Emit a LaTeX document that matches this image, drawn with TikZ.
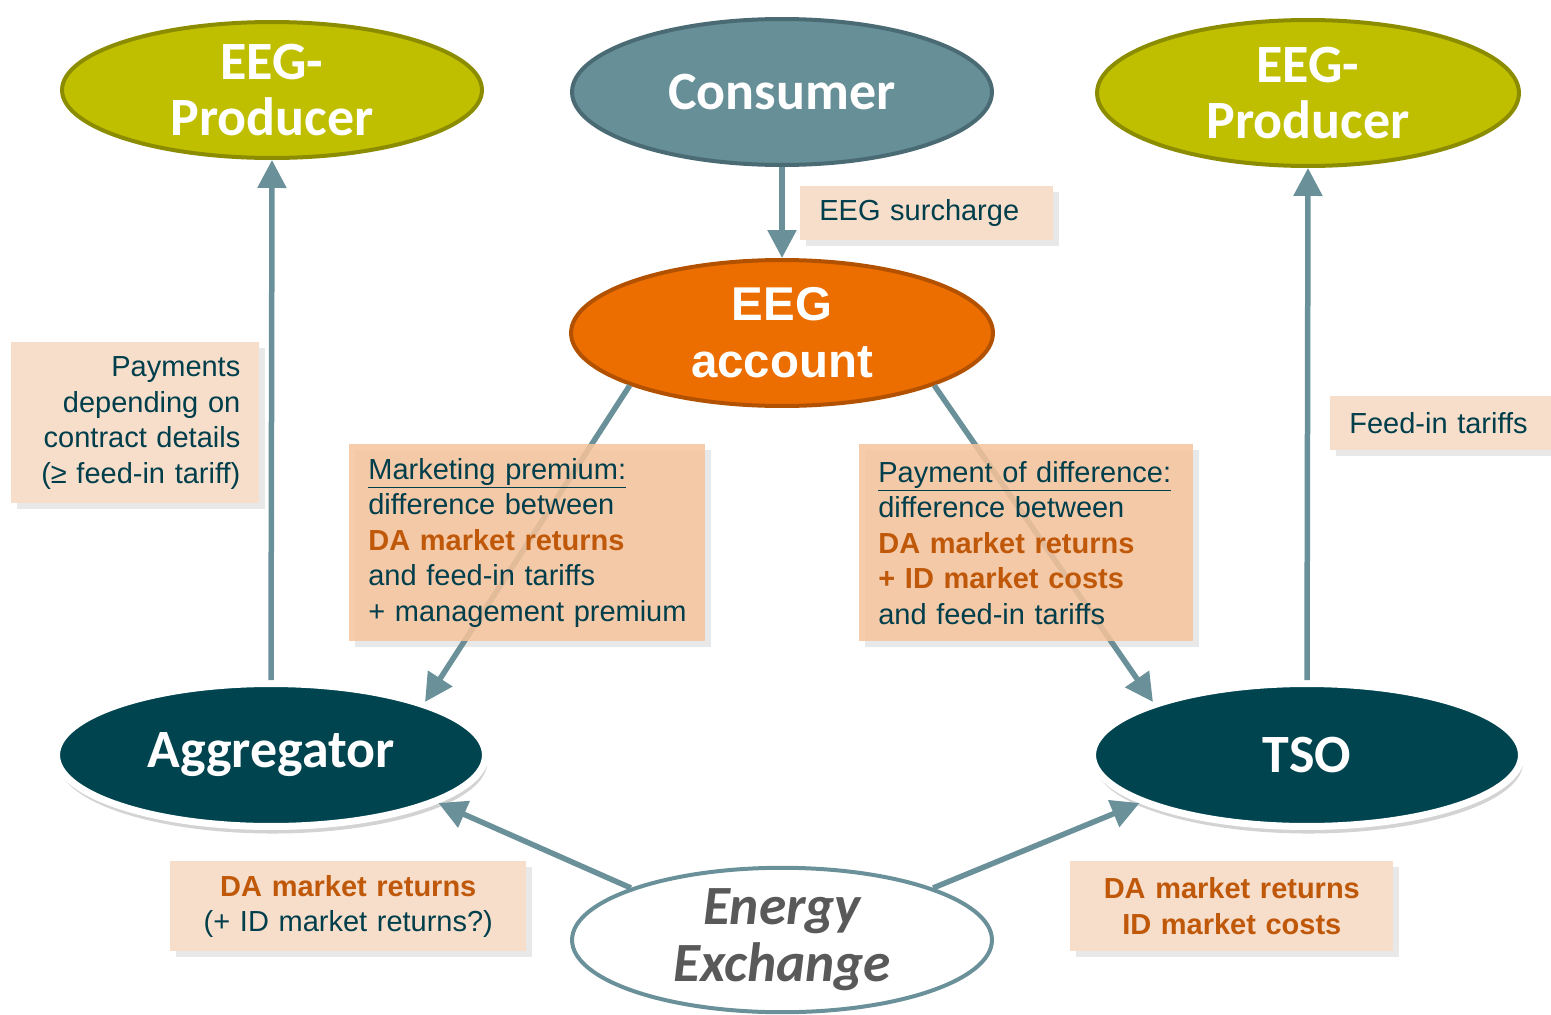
\documentclass[tikz,border=0pt]{standalone}
\usepackage{fontspec}
\setmainfont{Liberation Sans}
\newfontfamily\headfont{Carlito}
\usetikzlibrary{shapes.geometric,arrows.meta,shadows}

\definecolor{prodfill}{HTML}{BFBF00}
\definecolor{prodline}{HTML}{8C8C00}
\definecolor{consfill}{HTML}{668F97}
\definecolor{consline}{HTML}{4A6B73}
\definecolor{acctfill}{HTML}{EC6D00}
\definecolor{acctline}{HTML}{B25200}
\definecolor{darkteal}{HTML}{00444F}
\definecolor{flowteal}{HTML}{6A9099}
\definecolor{boxlight}{HTML}{F6DECB}
\definecolor{boxdark}{HTML}{F6C49C}
\definecolor{textteal}{HTML}{003E4B}
\definecolor{textorange}{HTML}{C0580A}
\definecolor{exchgray}{HTML}{595959}

\newcommand{\mkt}[1]{\textcolor{textorange}{\textbf{#1}}}

\begin{document}
\begin{tikzpicture}[x=0.02cm, y=-0.02cm,
  party/.style={ellipse, inner sep=0pt, line width=0.08cm, text=white, align=center,
    font=\headfont\bfseries\fontsize{30.7}{32.4}\selectfont},
  producer/.style={party, fill=prodfill, draw=prodline},
  player/.style={party, fill=darkteal, draw=white, line width=0.14cm,
    minimum width=8.58cm, minimum height=2.86cm,
    drop shadow={opacity=0.35, shadow xshift=1pt, shadow yshift=-4pt}},
  flow/.style={draw=flowteal, line width=0.11cm, -{Triangle[length=0.56cm, width=0.56cm]}},
  lbox/.style={fill=boxlight, text=textteal, anchor=north west, inner xsep=0.38cm, inner ysep=0pt,
    font=\fontsize{16.5}{20.2}\selectfont,
    drop shadow={opacity=0.18, shadow xshift=3pt, shadow yshift=-3pt}},
  dbox/.style={lbox, fill=boxdark, fill opacity=0.86, text opacity=1, align=left}]
  \useasboundingbox (0, 0) rectangle (1551, 1014);

  % parties
  \node[producer, minimum width=8.4cm, minimum height=2.72cm] (prodL) at (272, 90) {EEG-\\Producer};
  \node[producer, minimum width=8.44cm, minimum height=2.92cm] (prodR) at (1308, 93) {EEG-\\Producer};
  \node[party, fill=consfill, draw=consline, minimum width=8.4cm, minimum height=2.92cm] (cons) at (782, 92) {Consumer};
  \node[party, fill=acctfill, draw=acctline, minimum width=8.44cm, minimum height=2.92cm,
    font=\bfseries\fontsize{27}{32.4}\selectfont] (acct) at (782, 333) {EEG\\account};
  \node[player] (aggr) at (271, 755) {Aggregator};
  \node[player] (tso) at (1307, 755) {TSO};
  \node[party, fill=white, draw=flowteal, text=exchgray, minimum width=8.4cm, minimum height=2.8cm,
    font=\headfont\bfseries\itshape\fontsize{31.5}{32.4}\selectfont] (exch) at (782, 940) {Energy\\Exchange};

  % money flows
  \draw[flow] (cons.south) -- (acct.north);
  \draw[flow] (aggr.north) -- (prodL.south);
  \draw[flow] (tso.north) -- (prodR.south);
  \draw[flow] (acct.199) -- (aggr.19);
  \draw[flow] (acct.-19) -- (tso.161);
  \draw[flow] (exch.161) -- (aggr.-16);
  \draw[flow] (exch.19) -- (tso.196);

  % labels on the flows
  \node[lbox, text width=4.3cm, minimum height=1.08cm, align=left] (surcharge) at (800, 186) {EEG surcharge};
  \node[lbox, text width=4.2cm, minimum height=3.22cm, align=right] (contract) at (11, 342)
    {Payments\\depending on\\contract details\\(≥ feed-in tariff)};
  \node[dbox, text width=6.36cm, minimum height=3.94cm] (premium) at (349, 444)
    {\underline{Marketing premium:}\\difference between\\\mkt{DA market returns}\\and feed-in tariffs\\\mbox{+ management premium}};
  \node[dbox, text width=5.92cm, minimum height=3.94cm] (difference) at (859, 444)
    {\underline{Payment of difference:}\\difference between\\\mkt{DA market returns}\\\mkt{+ ID market costs}\\and feed-in tariffs};
  \node[lbox, text width=3.66cm, minimum height=1.08cm, align=left] (tariffs) at (1330, 396) {Feed-in tariffs};
  \node[lbox, text width=6.36cm, minimum height=1.8cm, align=center] (returnsL) at (170, 861)
    {\mkt{DA market returns}\\(+ ID market returns?)};
  \node[lbox, text width=5.7cm, minimum height=1.8cm, align=center] (returnsR) at (1070, 861)
    {\mkt{DA market returns}\\\mkt{ID market costs}};
\end{tikzpicture}
\end{document}
